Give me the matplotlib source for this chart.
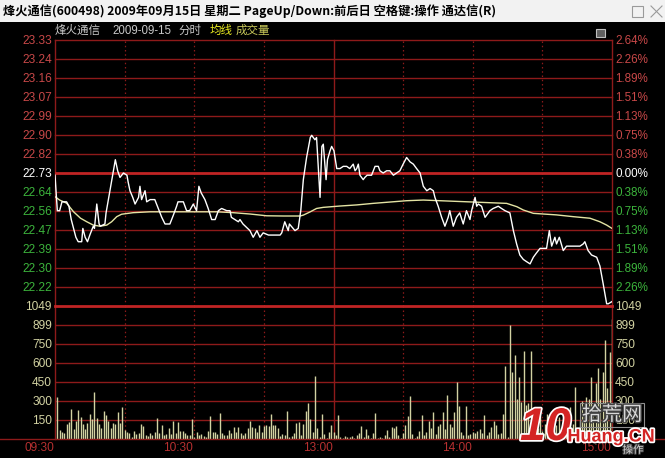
import matplotlib
matplotlib.use("Agg")
import matplotlib.pyplot as plt
import matplotlib.patheffects as pe
from matplotlib.patches import Rectangle
from matplotlib.lines import Line2D
from matplotlib.transforms import offset_copy

plt.rcParams['font.family'] = ['Noto Sans CJK SC', 'DejaVu Sans']

window_title = "烽火通信(600498) 2009年09月15日 星期二 PageUp/Down:前后日 空格键:操作 通达信(R)"
prev_close = 22.73
price_labels = ["23.33", "23.24", "23.16", "23.07", "22.99", "22.90", "22.82", "22.73",
                "22.64", "22.56", "22.47", "22.39", "22.30", "22.22"]
pct_labels = ["2.64%", "2.26%", "1.89%", "1.51%", "1.13%", "0.75%", "0.38%", "0.00%",
              "0.38%", "0.75%", "1.13%", "1.51%", "1.89%", "2.26%"]
vol_labels = ["1049", "899", "750", "600", "450", "300", "150"]
vol_max = 1049
time_labels = ["09:30", "10:30", "13:00", "14:00", "15:00"]
time_minutes = [0, 60, 120, 180, 240]

# minute index (0 = 09:30, 240 = 15:00) and price of the white line
price_min = [0, 1, 2, 3, 5, 6, 7, 9, 10, 11.5, 12, 13, 14, 15, 16.5, 17, 18, 19, 19.5, 21.5,
             22, 24, 26, 27, 28, 29.5, 31, 31.5, 32.3, 33.5, 34.5, 36, 36.6, 37.3, 38.8, 39.5,
             41, 43, 44.5, 46, 47.4, 49.5, 51, 52.4, 53, 55.3, 56.7, 58, 59.6, 61, 62, 63,
             64.6, 66, 67.5, 69, 70.4, 71.8, 74, 75.4, 76, 77.5, 79, 79.7, 81, 84, 85.4, 87,
             88.3, 89.7, 92, 97, 97.7, 99, 100.5, 101, 103.4, 104.8, 105.9, 107, 108.4, 110,
             110.6, 112, 112.7, 114.2, 115, 115.6, 116.8, 117.4, 118.5, 119.2, 120.2, 121.4,
             122.8, 124.2, 125.7, 127, 128.5, 129.3, 130, 130.7, 131.4, 132.1, 132.8, 133.5,
             134.5, 136.4, 137.9, 139.3, 140, 141.4, 142.9, 144.3, 145.8, 147.2, 148.6, 150,
             151.5, 153, 154.4, 155.8, 157.3, 158.7, 160.2, 161.6, 163, 163.7, 165.1, 166.6,
             168, 169.4, 170.1, 171.6, 173, 174.4, 175.9, 177.3, 178.8, 179.5, 181, 181.7,
             182.4, 183.8, 185.3, 187.4, 188.8, 191, 192.4, 193.9, 196, 197.5, 198.9, 200.3,
             201.8, 203.2, 204.7, 206.1, 207.5, 209, 211.8, 213, 214, 215.4, 216.1, 217.3,
             219, 220.4, 226.2, 227.6, 228.3, 229.7, 231.2, 233.4, 234.8, 236.2, 237.7,
             238.4, 240]
price_val = [22.72, 22.56, 22.56, 22.60, 22.60, 22.58, 22.52, 22.44, 22.42, 22.42, 22.48, 22.44,
             22.42, 22.45, 22.49, 22.48, 22.59, 22.50, 22.49, 22.50, 22.55, 22.67, 22.79, 22.74,
             22.71, 22.73, 22.72, 22.69, 22.65, 22.62, 22.59, 22.62, 22.67, 22.61, 22.65, 22.60,
             22.61, 22.61, 22.57, 22.53, 22.50, 22.50, 22.54, 22.58, 22.60, 22.60, 22.56, 22.56,
             22.59, 22.56, 22.67, 22.64, 22.61, 22.57, 22.52, 22.52, 22.56, 22.57, 22.56, 22.56,
             22.53, 22.52, 22.51, 22.52, 22.50, 22.47, 22.44, 22.47, 22.44, 22.46, 22.45, 22.45,
             22.46, 22.51, 22.47, 22.50, 22.47, 22.48, 22.56, 22.70, 22.80, 22.89, 22.90, 22.88,
             22.89, 22.62, 22.85, 22.86, 22.70, 22.79, 22.83, 22.85, 22.83, 22.75, 22.75, 22.76,
             22.76, 22.75, 22.77, 22.74, 22.75, 22.77, 22.72, 22.71, 22.70, 22.71, 22.72, 22.72,
             22.76, 22.76, 22.74, 22.73, 22.74, 22.74, 22.72, 22.73, 22.74, 22.77, 22.80, 22.78,
             22.77, 22.75, 22.73, 22.67, 22.65, 22.66, 22.65, 22.62, 22.58, 22.53, 22.49, 22.53,
             22.56, 22.49, 22.53, 22.55, 22.50, 22.56, 22.52, 22.56, 22.62, 22.58, 22.59, 22.58,
             22.53, 22.56, 22.57, 22.58, 22.57, 22.56, 22.55, 22.47, 22.41, 22.36, 22.34, 22.33,
             22.32, 22.35, 22.37, 22.39, 22.39, 22.47, 22.40, 22.44, 22.41, 22.44, 22.38, 22.40,
             22.40, 22.41, 22.42, 22.38, 22.36, 22.35, 22.31, 22.23, 22.14, 22.14, 22.15]

# average price (yellow line)
avg_min = [0, 2, 5, 8, 11, 13.7, 16.5, 19.4, 22.3, 24.4, 26.6, 28.7, 33.7, 41, 48, 55, 62.5,
           69.7, 76.8, 84, 91.2, 98.4, 105.6, 107, 110, 112.7, 115.6, 122.8, 130, 137.1, 144.3,
           151.5, 158.7, 165.9, 173, 180.2, 187.4, 194.6, 199, 201.8, 206.1, 216.1, 223.3,
           230.5, 234.8, 237.7, 240]
avg_val = [22.623, 22.608, 22.594, 22.555, 22.526, 22.510, 22.495, 22.490, 22.495, 22.510,
           22.533, 22.544, 22.551, 22.555, 22.555, 22.555, 22.555, 22.555, 22.551, 22.545,
           22.537, 22.536, 22.536, 22.540, 22.555, 22.570, 22.575, 22.581, 22.586, 22.593,
           22.599, 22.605, 22.608, 22.605, 22.602, 22.599, 22.596, 22.593, 22.578, 22.563,
           22.548, 22.541, 22.533, 22.526, 22.510, 22.495, 22.480]

# volume per minute, 241 values (09:30 .. 15:00)
volume = [0,
          329, 71, 58, 45, 116, 131, 237, 79, 145, 229, 171, 116, 79, 129, 197, 155, 368, 163,
          118, 84, 221, 192, 142, 84, 124, 116, 210, 124, 255, 71, 58, 50, 18, 63, 39, 50, 116,
          103, 32, 24, 50, 32, 53, 163, 50, 110, 32, 39, 84, 42, 142, 50, 131, 63, 63, 45, 29,
          29, 158, 18, 53, 32, 39, 24, 16, 66, 181, 58, 53, 39, 202, 45, 34, 32, 71, 45, 97, 53,
          97, 45, 32, 45, 89, 142, 97, 84, 53, 110, 58, 105, 110, 105,
          197, 110, 110, 84, 24, 39, 32, 221, 18, 24, 45, 124, 134, 32, 118, 221, 281, 158, 53,
          497, 84, 18, 197, 37, 5, 55, 110, 58, 32,
          189, 18, 11, 24, 13, 13, 24, 11, 32, 50, 103, 18, 79, 32, 5, 45, 202, 11, 16, 11, 29,
          71, 18, 92, 84, 103, 29, 11, 50, 110, 181, 339, 39, 5, 24, 66, 189, 32, 58, 145, 84,
          210, 39, 103, 118, 213, 79, 347, 118, 97, 213, 450, 260, 53, 29, 260, 32, 39, 58, 45,
          63, 76, 45, 187,
          32, 58, 97, 145, 110, 39, 50, 197, 578, 18, 899, 531, 662, 313, 492, 294, 697, 268,
          281, 694,
          229, 150, 90, 180, 60, 120, 200, 80, 140, 45, 110, 170, 70, 130, 95, 60,
          255, 120, 407, 90, 150, 302, 200, 329, 313, 492, 255, 444, 557, 313, 531, 781, 400,
          689, 950]

W, H = 665, 458
GRID = "#8e1a1a"
GRID_HI = "#c02424"
UP = "#c84848"
DOWN = "#3cb43c"
VOLC = "#d2d2a2"
NUM = ['Liberation Sans', 'DejaVu Sans']

fig = plt.figure(figsize=(W / 100, H / 100), dpi=100, facecolor="black")

# window title bar
fig.patches.append(Rectangle((0, 1 - 22 / H), 1, 22 / H, transform=fig.transFigure,
                             facecolor="#f2f2f2", edgecolor="none", zorder=0))
fig.text(3 / W, 1 - 11 / H, window_title, fontsize=8.8, fontweight="bold", color="black",
         va="center", ha="left")
fig.patches.append(Rectangle((632 / W, 1 - 17 / H), 11 / W, 11 / H, transform=fig.transFigure,
                             facecolor="none", edgecolor="#9a9a9a", lw=0.8))
fig.lines.append(Line2D([651 / W, 662 / W], [1 - 6 / H, 1 - 17 / H], transform=fig.transFigure,
                        color="#9a9a9a", lw=0.8))
fig.lines.append(Line2D([651 / W, 662 / W], [1 - 17 / H, 1 - 6 / H], transform=fig.transFigure,
                        color="#9a9a9a", lw=0.8))

# chart header
fig.text(55 / W, 1 - 30.5 / H, "烽火通信", fontsize=8.3, color="#c8c8c8", va="center")
fig.text(112 / W, 1 - 30.5 / H, "2009-09-15", fontsize=8.3, color="#c8c8c8", va="center",
         family=NUM)
fig.text(178 / W, 1 - 30.5 / H, "分时", fontsize=8.3, color="#c8c8c8", va="center")
fig.text(210 / W, 1 - 30.5 / H, "均线", fontsize=8.3, color="#e8e820", va="center")
fig.text(236 / W, 1 - 30.5 / H, "成交量", fontsize=8.3, color="#c8c85a", va="center")
fig.patches.append(Rectangle((596 / W, 1 - 37 / H), 9 / W, 8 / H, transform=fig.transFigure,
                             facecolor="#606060", edgecolor="#c0c0c0", lw=0.8))

# bottom line across the window
fig.lines.append(Line2D([0, 1], [1 - 439 / H, 1 - 439 / H], transform=fig.transFigure,
                        color=GRID, lw=1))

ax_p = fig.add_axes([55 / W, 1 - 306 / H, 557 / W, 266 / H], facecolor="black")
ax_v = fig.add_axes([55 / W, 1 - 439 / H, 557 / W, 133 / H], facecolor="black")

step = (float(price_labels[0]) - prev_close) / 7
for ax in (ax_p, ax_v):
    ax.set_xlim(0, 240)
    for s in ax.spines.values():
        s.set_visible(False)
    ax.set_xticks([])
    ax.set_yticks([])
    for m in [30, 60, 90, 150, 180, 210]:
        ax.axvline(m, color=GRID, lw=0.9, ls=(0, (1.2, 2.2)), zorder=1)
    for m in [0, 120, 240]:
        ax.axvline(m, color=GRID, lw=1, zorder=1, clip_on=False)
ax_p.set_ylim(prev_close - 7 * step, prev_close + 7 * step)
ax_v.set_ylim(0, vol_max)

for k in range(14):
    lvl = prev_close + (7 - k) * step
    if k == 7:
        ax_p.axhline(lvl, color=GRID_HI, lw=2, zorder=1)
    else:
        ax_p.axhline(lvl, color=GRID, lw=1, zorder=1, clip_on=False)
for k in range(7):
    lvl = vol_max - k * vol_max / 7
    if k == 0:
        ax_v.axhline(lvl, color=GRID_HI, lw=2, zorder=1, clip_on=False)
    else:
        ax_v.axhline(lvl, color=GRID, lw=1, zorder=1)

# axis labels
lt = offset_copy(ax_p.get_yaxis_transform(), fig=fig, x=-3, y=-1, units="dots")
rt = offset_copy(ax_p.get_yaxis_transform(), fig=fig, x=3, y=-1, units="dots")
for k in range(14):
    lvl = prev_close + (7 - k) * step
    c = UP if k < 7 else ("white" if k == 7 else DOWN)
    ax_p.text(0, lvl, price_labels[k], transform=lt, ha="right", va="center",
              fontsize=8.6, color=c, family=NUM)
    ax_p.text(1, lvl, pct_labels[k], transform=rt, ha="left", va="center",
              fontsize=8.4, color=c, family=NUM)
lvt = offset_copy(ax_v.get_yaxis_transform(), fig=fig, x=-3, y=-1, units="dots")
rvt = offset_copy(ax_v.get_yaxis_transform(), fig=fig, x=3, y=-1, units="dots")
for k in range(7):
    lvl = vol_max - k * vol_max / 7
    ax_v.text(0, lvl, vol_labels[k], transform=lvt, ha="right", va="center",
              fontsize=8.6, color=VOLC, family=NUM)
    ax_v.text(1, lvl, vol_labels[k], transform=rvt, ha="left", va="center",
              fontsize=8.6, color=VOLC, family=NUM)
tt = offset_copy(ax_v.get_xaxis_transform(), fig=fig, x=-1, y=-9, units="dots")
for m, lab in zip(time_minutes, time_labels):
    ax_v.text(m, 0, lab, transform=tt, ha="right", va="center", fontsize=8.6,
              color="#b83030", family=NUM)

# data
ax_p.plot(avg_min, avg_val, color="#e4e4a4", lw=1, zorder=3)
ax_p.plot(price_min, price_val, color="white", lw=1, zorder=4)
ax_v.vlines(range(len(volume)), 0, volume, color=VOLC, lw=1, zorder=3)

# watermark
stroke_w = [pe.withStroke(linewidth=2.5, foreground="white")]
fig.text(520 / W, 1 - 428 / H, "10", fontsize=33, fontweight="black", style="italic",
         color="#d42424", va="center", ha="left", family=NUM, path_effects=stroke_w, zorder=10)
fig.text(612 / W, 1 - 415 / H, "拾荒网", fontsize=14.5, color="#d8d8d8", va="center",
         ha="center", path_effects=[pe.withStroke(linewidth=2, foreground="#404040")],
         bbox=dict(facecolor="none", edgecolor="#909090", lw=0.8, pad=1), zorder=10)
fig.text(611 / W, 1 - 437 / H, "Huang.CN", fontsize=13, fontweight="bold", color="#d42424",
         va="center", ha="center", family=NUM, path_effects=stroke_w, zorder=10)
fig.text(633 / W, 1 - 450 / H, "操作", fontsize=7.5, color="#d0d0d0", va="center",
         ha="center", path_effects=[pe.withStroke(linewidth=1.5, foreground="#404040")],
         zorder=11)

fig.savefig("out.png", dpi=100, facecolor="black")
